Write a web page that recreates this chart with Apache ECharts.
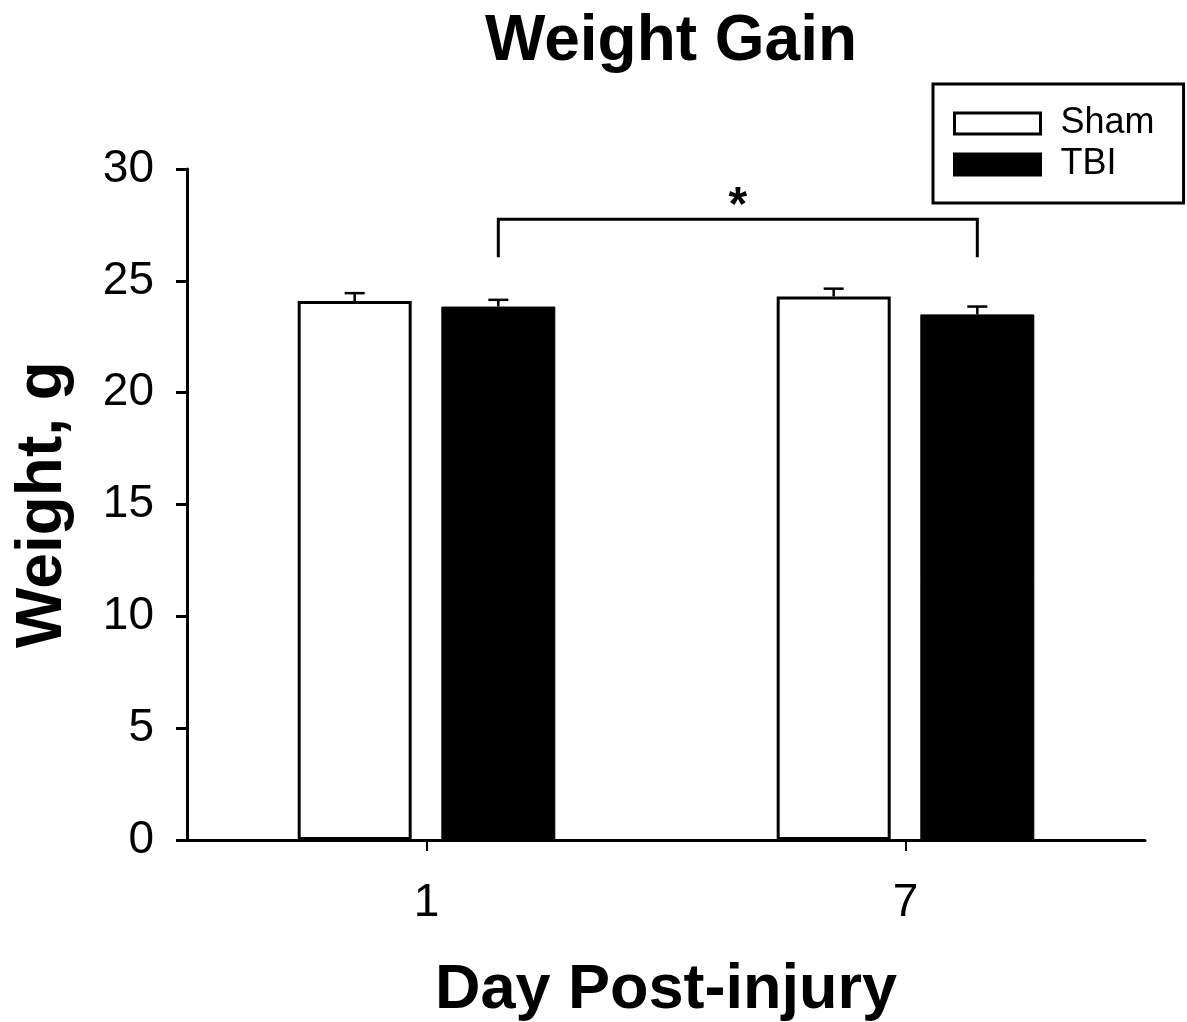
<!DOCTYPE html>
<html>
<head>
<meta charset="utf-8">
<script src="https://cdn.jsdelivr.net/npm/echarts@6/dist/echarts.min.js"></script>
<style>
html,body{margin:0;padding:0;background:#fff;}
#chart{width:1187px;height:1022px;}
</style>
</head>
<body>
<div id="chart"></div>
<script>
// ---- data ----
const categories = ['1', '7'];
const seriesNames = ['Sham', 'TBI'];
const shamMean = [24.1, 24.3];
const shamSem = [0.35, 0.35];
const tbiMean = [23.85, 23.5];
const tbiSem = [0.3, 0.35];
const yMin = 0, yMax = 30, yStep = 5;
// significance bracket: from category index, to category index (TBI bars), top value, leg bottom value
const bracketCats = [0, 1];
const bracketTop = [27.75];
const bracketBottom = [26.05];
const bracketLabel = ['*'];

// ---- layout/style ----
const FONT = '"Liberation Sans", Arial, Helvetica, sans-serif';
const BAR_W = 114;
const GAP_RATIO = 0.26;
const OFFSET = (BAR_W + BAR_W * GAP_RATIO) / 2;

const chart = echarts.init(document.getElementById('chart'), null, {renderer: 'canvas'});

function errData(means, sems) {
  return means.map((m, i) => [i, m, sems[i]]);
}
function errRender(sign) {
  return function (params, api) {
    const idx = api.value(0), m = api.value(1), s = api.value(2);
    const base = api.coord([idx, m]);
    const top = api.coord([idx, m + s]);
    const x = base[0] + sign * OFFSET;
    const st = {stroke: '#000', lineWidth: 2.5};
    return {
      type: 'group',
      children: [
        {type: 'line', shape: {x1: x, y1: base[1], x2: x, y2: top[1]}, style: st},
        {type: 'line', shape: {x1: x - 10, y1: top[1], x2: x + 10, y2: top[1]}, style: st}
      ]
    };
  };
}

const option = {
  backgroundColor: '#fff',
  animation: false,
  title: {
    text: 'Weight Gain',
    left: 666, textAlign: 'center', top: 5,
    textStyle: {fontFamily: FONT, fontSize: 64, fontWeight: 'bold', color: '#000'}
  },
  legend: {
    orient: 'vertical',
    left: 933, top: 84,
    padding: [19, 29, 18, 20],
    borderColor: '#000', borderWidth: 3,
    icon: 'rect',
    itemWidth: 86, itemHeight: 21, itemGap: 0,
    itemStyle: {borderWidth: 3, borderColor: '#000'},
    textStyle: {fontFamily: FONT, fontSize: 36, lineHeight: 41, color: '#000', padding: [0, 0, 0, 15]},
    data: seriesNames
  },
  grid: {left: 187, right: 42, top: 169, bottom: 182, outerBoundsMode: 'none', containLabel: false},
  xAxis: {
    type: 'category',
    data: categories,
    name: 'Day Post-injury',
    nameLocation: 'middle',
    nameGap: 119,
    nameTextStyle: {fontFamily: FONT, fontSize: 63, fontWeight: 'bold', color: '#000'},
    axisLine: {lineStyle: {color: '#000', width: 3}},
    axisTick: {show: true, alignWithLabel: true, length: 11, lineStyle: {color: '#000', width: 2}},
    axisLabel: {fontFamily: FONT, fontSize: 46, color: '#000', margin: 40}
  },
  yAxis: {
    type: 'value',
    min: yMin, max: yMax, interval: yStep,
    name: 'Weight, g',
    nameLocation: 'middle',
    nameGap: 112,
    nameTextStyle: {fontFamily: FONT, fontSize: 64, fontWeight: 'bold', color: '#000'},
    axisLine: {show: true, lineStyle: {color: '#000', width: 3}},
    axisTick: {show: true, length: 11, lineStyle: {color: '#000', width: 3}},
    axisLabel: {fontFamily: FONT, fontSize: 46, color: '#000', margin: 33},
    splitLine: {show: false}
  },
  series: [
    {
      name: 'Sham', type: 'bar', data: shamMean,
      barWidth: BAR_W, barGap: (GAP_RATIO * 100) + '%',
      itemStyle: {color: '#fff', borderColor: '#000', borderWidth: 3}
    },
    {
      name: 'TBI', type: 'bar', data: tbiMean,
      barWidth: BAR_W, barGap: (GAP_RATIO * 100) + '%',
      itemStyle: {color: '#000', borderColor: '#000', borderWidth: 1}
    },
    {
      type: 'custom', name: 'shamErr', data: errData(shamMean, shamSem),
      renderItem: errRender(-1), z: 5, silent: true
    },
    {
      type: 'custom', name: 'tbiErr', data: errData(tbiMean, tbiSem),
      renderItem: errRender(1), z: 5, silent: true
    },
    {
      type: 'custom', name: 'bracket',
      data: [[bracketCats[0], bracketCats[1], bracketTop[0], bracketBottom[0]]],
      z: 6, silent: true,
      renderItem: function (params, api) {
        const a = api.value(0), b = api.value(1), t = api.value(2), bt = api.value(3);
        const pA = api.coord([a, t]);
        const pB = api.coord([b, t]);
        const pBot = api.coord([a, bt]);
        const x1 = pA[0] + OFFSET, x2 = pB[0] + OFFSET;
        const st = {stroke: '#000', lineWidth: 3, fill: null};
        return {
          type: 'group',
          children: [
            {type: 'polyline', shape: {points: [[x1, pBot[1]], [x1, pA[1]], [x2, pA[1]], [x2, pBot[1]]]}, style: st},
            {type: 'text', x: (x1 + x2) / 2, y: pA[1] - 13,
              style: {text: bracketLabel[0], fontFamily: FONT, fontSize: 48, fontWeight: 'bold',
                fill: '#000', align: 'center', verticalAlign: 'middle'}}
          ]
        };
      }
    }
  ]
};
chart.setOption(option);
</script>
</body>
</html>
